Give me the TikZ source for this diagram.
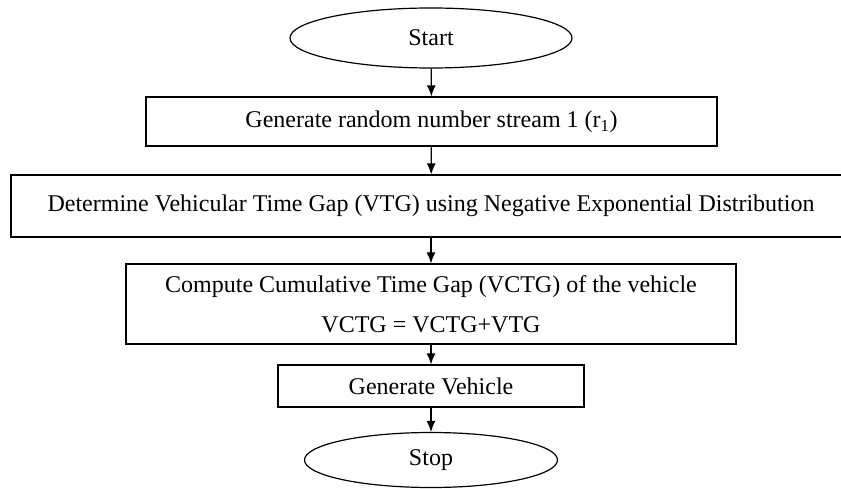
\documentclass[tikz,border=0pt]{standalone}
\usepackage{fontspec}
\setmainfont{Liberation Serif}
\usetikzlibrary{shapes.geometric,arrows.meta}

\begin{document}
\begin{tikzpicture}[x=1pt,y=-1pt,
		terminal/.style={draw, ellipse, line width=1.2pt, inner sep=0pt, minimum width=282pt, minimum height=60pt},
		process/.style={draw, rectangle, line width=1.2pt, inner sep=0pt, align=center},
		flow/.style={-{Latex[length=11pt,width=9pt]}, line width=1.2pt},
		font=\fontsize{24}{28}\selectfont]
			\useasboundingbox (0,0) rectangle (841,489);

			% start
			\node[terminal] (start) at (431,38) {Start} ;

			% steps
			\node[process, minimum width=571pt, minimum height=49pt] (gen) at (431.5,121.5) {Generate random number stream 1 (r\textsubscript{1})} ;
			\node[process, minimum width=840pt, minimum height=62pt] (vtg) at (431,206) {Determine Vehicular Time Gap (VTG) using Negative Exponential Distribution} ;
			\node[process, minimum width=610pt, minimum height=80pt] (vctg) at (431,304) {Compute Cumulative Time Gap (VCTG) of the vehicle\\[12pt]VCTG = VCTG+VTG} ;
			\node[process, minimum width=306pt, minimum height=42pt] (veh) at (431,386) {Generate Vehicle} ;

			% stop
			\node[terminal, minimum width=253pt, minimum height=55pt] (stop) at (431,460) {Stop} ;

			% arrows
			\draw [flow] (start) -- (gen) ;
			\draw [flow] (gen) -- (vtg) ;
			\draw [flow] (vtg) -- (vctg) ;
			\draw [flow] (vctg) -- (veh) ;
			\draw [flow] (veh) -- (stop) ;

		\end{tikzpicture}
\end{document}
